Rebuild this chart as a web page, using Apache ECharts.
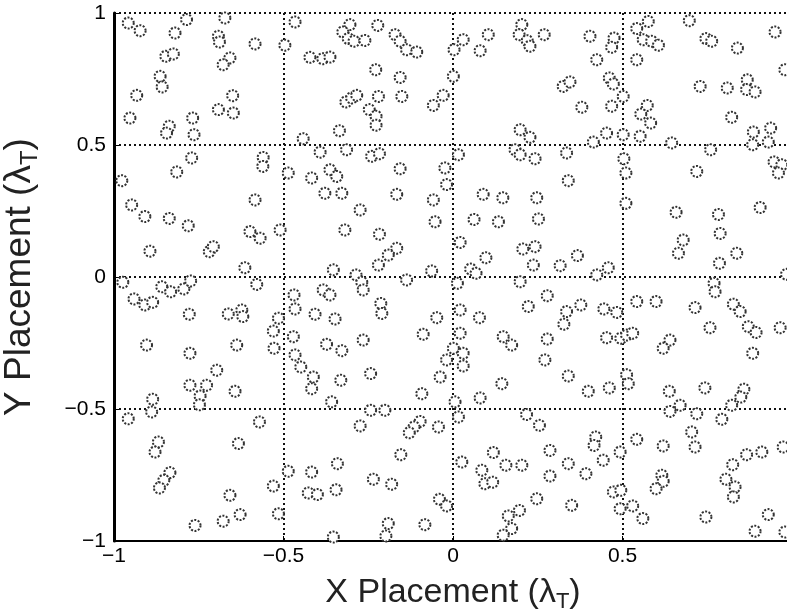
<!DOCTYPE html>
<html><head><meta charset="utf-8">
<script src="https://cdn.jsdelivr.net/npm/echarts@6/dist/echarts.min.js"></script>
<style>html,body{margin:0;padding:0;background:#fff}#c{width:787px;height:611px}</style>
</head><body><div id="c"></div>
<script>
const xTicks = [-1, -0.5, 0, 0.5, 1];
const yTicks = [-1, -0.5, 0, 0.5, 1];
const topLeft = [[-0.958,0.962],[-0.923,0.933],[-0.786,0.975],[-0.673,0.981],[-0.820,0.924],[-0.692,0.912],[-0.689,0.890],[-0.584,0.883],[-0.847,0.836],[-0.825,0.845],[-0.658,0.830],[-0.678,0.804],[-0.864,0.760],[-0.858,0.720],[-0.933,0.688],[-0.650,0.687],[-0.953,0.602],[-0.692,0.634],[-0.648,0.621],[-0.768,0.602],[-0.837,0.571],[-0.845,0.545],[-0.764,0.539],[-0.771,0.451],[-0.560,0.453],[-0.561,0.419],[-0.815,0.398],[-0.977,0.365],
[-0.466,0.966],[-0.304,0.956],[-0.222,0.953],[-0.325,0.928],[-0.309,0.903],[-0.292,0.893],[-0.260,0.896],[-0.496,0.878],[-0.171,0.918],[-0.156,0.893],[-0.137,0.861],[-0.107,0.852],[-0.422,0.832],[-0.384,0.827],[-0.363,0.833],[0.003,0.861],[-0.228,0.785],[-0.156,0.756],[0.001,0.760],[-0.029,0.688],[-0.058,0.650],[-0.151,0.684],[-0.220,0.684],[-0.316,0.663],[-0.299,0.678],[-0.284,0.688],[-0.247,0.634],[-0.227,0.609],[-0.227,0.575],[-0.335,0.554],[-0.442,0.524],[-0.392,0.473],[-0.314,0.482],[-0.240,0.457],[-0.217,0.467],[-0.156,0.410],[-0.024,0.413],[-0.486,0.394],[-0.417,0.375],[-0.363,0.406],[-0.343,0.381],[-0.019,0.350]];
const topRight = [[0.203,0.956],[0.195,0.918],[0.219,0.895],[0.227,0.874],[0.269,0.918],[0.030,0.899],[0.104,0.918],[0.080,0.857],[0.404,0.912],[0.475,0.905],[0.468,0.870],[0.424,0.823],[0.325,0.722],[0.345,0.739],[0.461,0.754],[0.473,0.731],[0.380,0.643],[0.468,0.647],[0.198,0.558],[0.227,0.529],[0.453,0.545],[0.414,0.511],[0.016,0.463],[0.183,0.482],[0.198,0.463],[0.242,0.448],[0.335,0.470],[0.340,0.365],
[0.576,0.968],[0.542,0.941],[0.561,0.899],[0.586,0.893],[0.606,0.878],[0.697,0.971],[0.950,0.928],[0.746,0.903],[0.763,0.893],[0.839,0.867],[0.542,0.823],[0.979,0.785],[0.729,0.722],[0.809,0.716],[0.868,0.747],[0.866,0.710],[0.891,0.701],[0.502,0.684],[0.573,0.650],[0.554,0.617],[0.583,0.583],[0.822,0.605],[0.886,0.549],[0.884,0.501],[0.937,0.564],[0.930,0.511],[0.552,0.533],[0.502,0.539],[0.645,0.508],[0.760,0.482],[0.504,0.448],[0.510,0.394],[0.947,0.436],[0.970,0.425],[0.960,0.394],[0.719,0.400]];
const middleLeft = [[-0.584,0.292],[-0.948,0.273],[-0.909,0.229],[-0.837,0.222],[-0.781,0.194],[-0.599,0.172],[-0.569,0.147],[-0.894,0.098],[-0.719,0.096],[-0.707,0.115],[-0.614,0.035],[-0.974,-0.020],[-0.859,-0.037],[-0.833,-0.056],[-0.794,-0.045],[-0.774,-0.015],[-0.579,-0.028],[-0.941,-0.083],[-0.909,-0.106],[-0.886,-0.096],[-0.778,-0.141],[-0.663,-0.140],[-0.623,-0.125],[-0.620,-0.150],[-0.515,-0.156],[-0.530,-0.205],[-0.904,-0.258],[-0.638,-0.258],[-0.528,-0.270],[-0.776,-0.289],
[-0.378,0.317],[-0.328,0.317],[-0.166,0.313],[-0.058,0.292],[-0.274,0.254],[-0.053,0.209],[-0.510,0.178],[-0.319,0.178],[-0.217,0.162],[-0.166,0.109],[-0.191,0.083],[-0.220,0.045],[-0.353,0.027],[-0.063,0.023],[-0.286,0.008],[-0.269,-0.020],[-0.265,-0.049],[-0.137,-0.011],[-0.383,-0.049],[-0.363,-0.068],[-0.469,-0.068],[-0.213,-0.100],[-0.210,-0.138],[-0.466,-0.121],[-0.407,-0.141],[-0.348,-0.159],[-0.048,-0.154],[-0.471,-0.226],[-0.088,-0.217],[-0.265,-0.239],[-0.373,-0.255],[-0.328,-0.279],[-0.466,-0.295],[-0.019,-0.314]];
const middleRight = [[0.089,0.313],[0.147,0.300],[0.247,0.300],[0.062,0.218],[0.134,0.209],[0.252,0.220],[0.021,0.131],[0.206,0.106],[0.242,0.115],[0.097,0.073],[0.367,0.081],[0.237,0.045],[0.316,0.043],[0.052,0.030],[0.068,0.014],[0.458,0.035],[0.424,0.008],[0.013,-0.024],[0.198,-0.018],[0.278,-0.071],[0.222,-0.112],[0.377,-0.106],[0.445,-0.121],[0.483,-0.134],[0.335,-0.131],[0.327,-0.179],[0.021,-0.125],[0.078,-0.154],[0.021,-0.213],[0.148,-0.226],[0.173,-0.258],[0.278,-0.235],[0.453,-0.230],[0.495,-0.232],[0.001,-0.270],[0.030,-0.289],[0.271,-0.314],
[0.510,0.279],[0.658,0.245],[0.783,0.237],[0.906,0.263],[0.788,0.165],[0.679,0.140],[0.665,0.090],[0.837,0.090],[0.786,0.052],[0.984,0.010],[0.770,-0.024],[0.773,-0.056],[0.542,-0.093],[0.599,-0.093],[0.714,-0.116],[0.827,-0.103],[0.847,-0.131],[0.758,-0.192],[0.871,-0.188],[0.894,-0.210],[0.965,-0.192],[0.512,-0.220],[0.530,-0.213],[0.640,-0.239],[0.620,-0.270],[0.884,-0.289]];
const bottomLeft = [[-0.697,-0.353],[-0.776,-0.410],[-0.727,-0.410],[-0.746,-0.451],[-0.748,-0.484],[-0.643,-0.433],[-0.886,-0.463],[-0.889,-0.511],[-0.958,-0.537],[-0.571,-0.549],[-0.869,-0.625],[-0.879,-0.663],[-0.633,-0.631],[-0.835,-0.741],[-0.853,-0.770],[-0.866,-0.799],[-0.530,-0.792],[-0.658,-0.827],[-0.515,-0.897],[-0.628,-0.900],[-0.678,-0.925],[-0.761,-0.941],
[-0.449,-0.341],[-0.412,-0.379],[-0.417,-0.423],[-0.331,-0.391],[-0.243,-0.366],[-0.038,-0.379],[-0.092,-0.442],[-0.358,-0.473],[-0.243,-0.505],[-0.201,-0.505],[-0.274,-0.564],[-0.097,-0.547],[-0.115,-0.568],[-0.129,-0.590],[-0.043,-0.568],[-0.154,-0.673],[-0.341,-0.707],[-0.486,-0.736],[-0.417,-0.739],[-0.235,-0.766],[-0.181,-0.785],[-0.427,-0.818],[-0.400,-0.824],[-0.345,-0.806],[-0.040,-0.842],[-0.019,-0.867],[-0.191,-0.934],[-0.083,-0.938],[-0.353,-0.985],[-0.198,-0.981]];
const bottomRight = [[0.030,-0.337],[0.144,-0.404],[0.340,-0.375],[0.399,-0.433],[0.461,-0.420],[0.080,-0.458],[0.006,-0.473],[0.016,-0.530],[0.217,-0.521],[0.255,-0.562],[0.421,-0.606],[0.416,-0.638],[0.286,-0.657],[0.119,-0.665],[0.443,-0.694],[0.493,-0.663],[0.026,-0.701],[0.156,-0.713],[0.203,-0.713],[0.340,-0.707],[0.085,-0.732],[0.286,-0.754],[0.392,-0.745],[0.094,-0.783],[0.117,-0.777],[0.473,-0.814],[0.495,-0.808],[0.247,-0.840],[0.350,-0.865],[0.493,-0.878],[0.196,-0.884],[0.163,-0.905],[0.173,-0.953],[0.148,-0.978],
[0.512,-0.370],[0.517,-0.404],[0.638,-0.433],[0.743,-0.420],[0.858,-0.425],[0.849,-0.455],[0.822,-0.486],[0.670,-0.486],[0.640,-0.509],[0.719,-0.518],[0.793,-0.539],[0.704,-0.587],[0.542,-0.615],[0.620,-0.640],[0.714,-0.644],[0.866,-0.673],[0.911,-0.663],[0.974,-0.644],[0.825,-0.711],[0.616,-0.751],[0.620,-0.774],[0.599,-0.802],[0.805,-0.766],[0.832,-0.795],[0.827,-0.833],[0.530,-0.867],[0.560,-0.915],[0.746,-0.909],[0.930,-0.900],[0.891,-0.963],[0.979,-0.966]];

const allPoints = [].concat(topLeft, topRight, middleLeft, middleRight, bottomLeft, bottomRight);
const font = '"Liberation Sans", Arial, sans-serif';
const fmt = v => (v < 0 ? '\u2212' + String(-v) : String(v));
const gridLine = {show: true, lineStyle: {color: '#111', width: 2, type: [2, 3]}};
const richX = {
  a: {fontSize: 34, fontFamily: font, color: '#222'},
  s: {fontSize: 22, fontFamily: font, color: '#222', padding: [18, 0, 0, 0]}
};
const richY = {
  a: {fontSize: 37, fontFamily: font, color: '#222'},
  s: {fontSize: 24, fontFamily: font, color: '#222', padding: [20, 0, 0, 0]}
};
const chart = echarts.init(document.getElementById('c'));
chart.setOption({
  animation: false,
  backgroundColor: '#fff',
  grid: {left: 114, top: 13, width: 678, height: 528, containLabel: false, outerBoundsMode: 'none'},
  xAxis: {
    type: 'value', min: -1, max: 1, interval: 0.5,
    name: '{a|X Placement (λ}{s|T}{a|)}', nameLocation: 'middle', nameGap: 32,
    nameTextStyle: {rich: richX},
    axisLine: {show: true, onZero: false, lineStyle: {color: '#000', width: 2}},
    axisTick: {show: true, inside: true, length: 5, lineStyle: {color: '#000'}},
    axisLabel: {color: '#000', fontSize: 21, fontFamily: font, margin: 5,
      formatter: v => xTicks.includes(v) ? fmt(v) : ''},
    splitLine: gridLine
  },
  yAxis: {
    type: 'value', min: -1, max: 1, interval: 0.5,
    name: '{a|Y Placement (λ}{s|T}{a|)}', nameLocation: 'middle', nameGap: 72,
    nameTextStyle: {rich: richY},
    axisLine: {show: true, onZero: false, lineStyle: {color: '#000', width: 3}},
    axisTick: {show: true, inside: true, length: 5, lineStyle: {color: '#000'}},
    axisLabel: {color: '#000', fontSize: 21, fontFamily: font, margin: 8,
      formatter: v => yTicks.includes(v) ? fmt(v) : ''},
    splitLine: gridLine
  },
  series: [{
    type: 'scatter',
    data: allPoints,
    symbol: 'emptyCircle',
    symbolSize: 11,
    itemStyle: {color: '#333', borderColor: '#333', borderWidth: 1.3, borderType: [2, 1.5], opacity: 1}
  }]
});
</script>
</body></html>
